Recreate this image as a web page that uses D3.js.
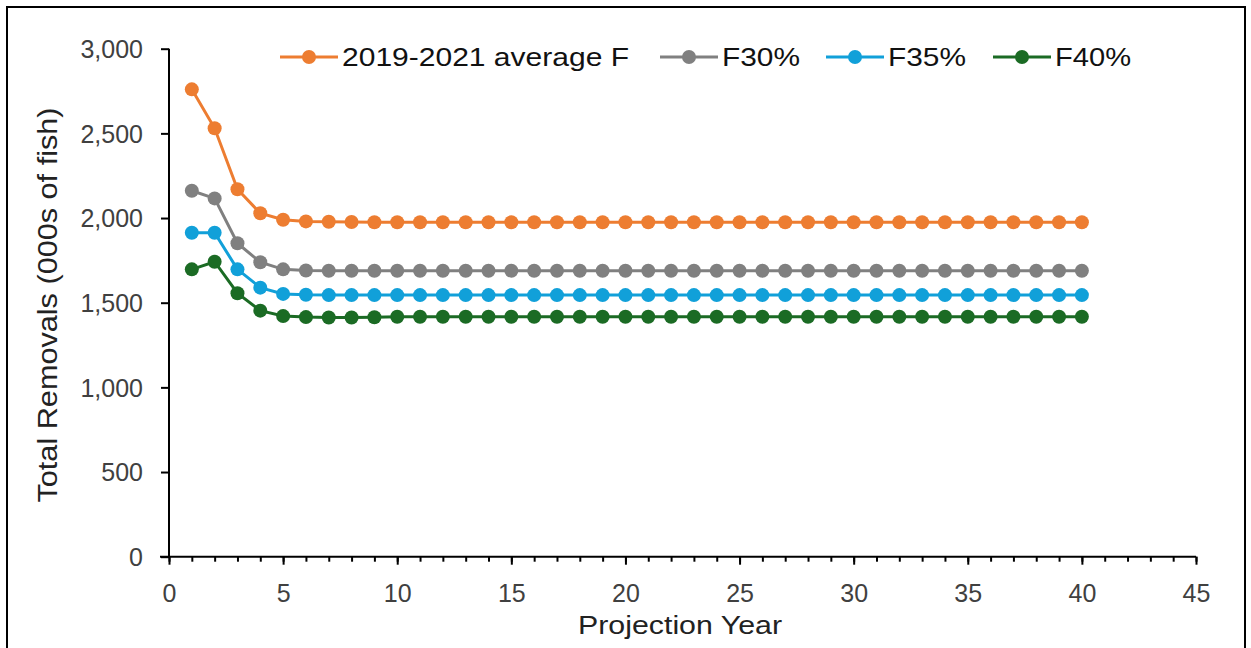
<!DOCTYPE html>
<html><head><meta charset="utf-8">
<script src="https://cdn.jsdelivr.net/npm/d3@7"></script>
<style>body{margin:0;background:#fff}</style>
</head><body>
<svg id="c" width="1251" height="648"></svg>
<script>
const years = d3.range(1, 41);
const seriesNames = ["2019-2021 average F", "F30%", "F35%", "F40%"];
const avgF  = [2760,2530,2170,2028,1990,1980,1978,1977,1975,1975,1975,1975,1975,1975,1975,1975,1975,1975,1975,1975,1975,1975,1975,1975,1975,1975,1975,1975,1975,1975,1975,1975,1975,1975,1975,1975,1975,1975,1975,1975];
const f30   = [2161,2116,1851,1739,1697,1690,1689,1689,1689,1689,1689,1689,1689,1689,1689,1689,1689,1689,1689,1689,1689,1689,1689,1689,1689,1689,1689,1689,1689,1689,1689,1689,1689,1689,1689,1689,1689,1689,1689,1689];
const f35   = [1913,1913,1697,1589,1552,1547,1545,1545,1545,1545,1545,1545,1545,1545,1545,1545,1545,1545,1545,1545,1545,1545,1545,1545,1545,1545,1545,1545,1545,1545,1545,1545,1545,1545,1545,1545,1545,1545,1545,1545];
const f40   = [1697,1742,1556,1453,1421,1415,1413,1413,1414,1417,1417,1417,1417,1417,1417,1417,1417,1417,1417,1417,1417,1417,1417,1417,1417,1417,1417,1417,1417,1417,1417,1417,1417,1417,1417,1417,1417,1417,1417,1417];
const colors = ["#ED7D31", "#808080", "#11A0D9", "#1B6B24"];
const yTicks = [0, 500, 1000, 1500, 2000, 2500, 3000];
const xTicks = [0, 5, 10, 15, 20, 25, 30, 35, 40, 45];
const allSeries = [avgF, f30, f35, f40];

const svg = d3.select("#c");
svg.append("rect").attr("x", 7).attr("y", 7).attr("width", 1238).attr("height", 660)
  .attr("fill", "none").attr("stroke", "#000").attr("stroke-width", 2);

const x = d3.scaleLinear().domain([0, 45]).range([169, 1196]);
const y = d3.scaleLinear().domain([0, 3000]).range([556.7, 48.7]);
const font = "'Liberation Sans', Arial, sans-serif";

// y axis
const gy = svg.append("g").attr("transform", "translate(169,0)")
  .call(d3.axisLeft(y).tickValues(yTicks).tickSize(8).tickPadding(18).tickFormat(d3.format(",")));
gy.select(".domain").attr("stroke-width", 2).attr("d", `M0,${y(0)}V${y(3000)}`);
gy.selectAll(".tick line").attr("stroke-width", 2);
gy.selectAll(".tick text").style("font-family", font).style("font-size", "25px").attr("fill", "#404040").attr("dy", "0.35em");

// x axis minor
const gxm = svg.append("g").attr("transform", `translate(0,${y(0)})`)
  .call(d3.axisBottom(x).tickValues(d3.range(0, 46)).tickSize(5).tickFormat(""));
gxm.select(".domain").remove();
gxm.selectAll(".tick line").attr("stroke-width", 2);
const gx = svg.append("g").attr("transform", `translate(0,${y(0)})`)
  .call(d3.axisBottom(x).tickValues(xTicks).tickSize(8).tickPadding(20));
gx.select(".domain").attr("stroke-width", 2).attr("d", `M${x(0)-9},0H${x(45)}`);
gx.selectAll(".tick line").attr("stroke-width", 2);
gx.selectAll(".tick text").style("font-family", font).style("font-size", "25px").attr("fill", "#404040");

// titles
svg.append("text").attr("transform", `translate(57,305) rotate(-90)`).attr("text-anchor", "middle")
  .style("font-family", font).style("font-size", "27px").attr("fill", "#222")
  .attr("textLength", 395).attr("lengthAdjust", "spacingAndGlyphs")
  .text("Total Removals (000s of fish)");
svg.append("text").attr("x", 680).attr("y", 634).attr("text-anchor", "middle")
  .style("font-family", font).style("font-size", "26px").attr("fill", "#222")
  .attr("textLength", 204).attr("lengthAdjust", "spacingAndGlyphs")
  .text("Projection Year");

// series
const line = d3.line().x((d, i) => x(years[i])).y(d => y(d));
allSeries.forEach((s, k) => {
  svg.append("path").datum(s).attr("d", line).attr("fill", "none")
    .attr("stroke", colors[k]).attr("stroke-width", 3);
  svg.append("g").selectAll("circle").data(s).join("circle")
    .attr("cx", (d, i) => x(years[i])).attr("cy", d => y(d)).attr("r", 7).attr("fill", colors[k]);
});

// legend
const legX = [280, 660, 826, 993];
const legW = [287, 78, 78, 76];
const lg = svg.append("g");
seriesNames.forEach((n, k) => {
  const g = lg.append("g").attr("transform", `translate(${legX[k]},57)`);
  g.append("line").attr("x1", 0).attr("x2", 58).attr("stroke", colors[k]).attr("stroke-width", 3);
  g.append("circle").attr("cx", 29).attr("r", 7).attr("fill", colors[k]);
  g.append("text").attr("x", 62).attr("dy", "0.35em").style("font-family", "'Liberation Sans Narrow', 'Liberation Sans', sans-serif")
    .style("font-size", "26px").attr("fill", "#111").attr("textLength", legW[k]).attr("lengthAdjust", "spacingAndGlyphs").text(n);
});
</script>
</body></html>
